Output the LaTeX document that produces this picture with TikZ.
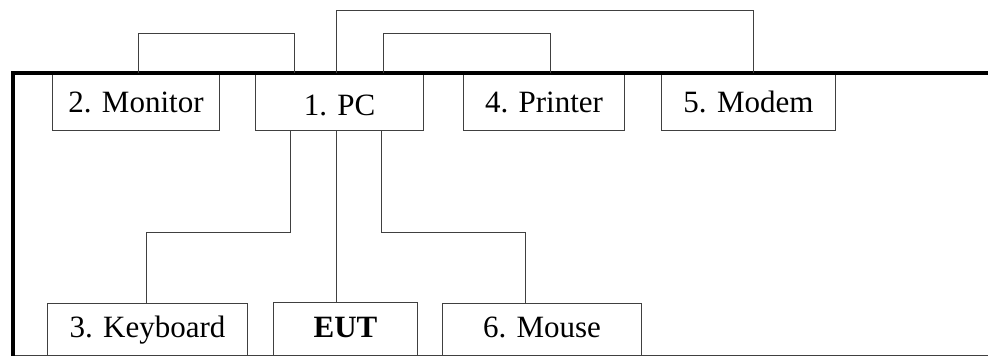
\documentclass[tikz,border=0pt]{standalone}
\usepackage{fontspec}
\setmainfont{Liberation Serif}
\usepackage{tikz}
\usetikzlibrary{positioning, calc}

\begin{document}
\begin{tikzpicture}[
  x=1pt, y=-1pt,
  unit/.style={
    draw=black!75, line width=1pt, anchor=north west,
    inner sep=0pt, text height=21pt,
    font=\fontsize{31}{36}\selectfont
  },
  upper/.style={unit, minimum height=57pt, text depth=0pt},
  lower/.style={unit, text depth=5pt},
  wire/.style={draw=black!75, line width=1pt},
  bus/.style={line width=4.5pt, line join=miter},
]
  \useasboundingbox (0,0) rectangle (988,356);

  % Base lines
  \draw[wire] (13,355) -- (988,355);

  % Devices on the table
  \node[upper, minimum width=167pt] (mon) at (52,73) {2. Monitor};
  \node[upper, minimum width=168pt] (pc) at (255,73) {\raisebox{-3pt}{1. PC}};
  \node[upper, minimum width=161pt] (prn) at (463,73) {4. Printer};
  \node[upper, minimum width=174pt] (mod) at (661,73) {5. Modem};

  % Devices on the floor
  \node[lower, minimum width=200pt, minimum height=52pt] (kbd) at (47,303) {3. Keyboard};
  \node[lower, minimum width=144pt, minimum height=53pt] (eut) at (273,302) {\textbf{EUT}};
  \node[lower, minimum width=199pt, minimum height=52pt] (mou) at (442,303) {6. Mouse};

  % Table edge
  \draw[bus] (988,73) -- (13,73) -- (13,356);

  % Cables above
  \draw[wire] ([xshift=86pt]mon.north west) -- ++(0,-40) -| ([xshift=39pt]pc.north west);
  \draw[wire] ([xshift=81pt]pc.north west) -- ++(0,-63) -| ([xshift=92pt]mod.north west);
  \draw[wire] ([xshift=128pt]pc.north west) -- ++(0,-40) -| ([xshift=87pt]prn.north west);

  % Cables below
  \draw[wire] ([xshift=35pt]pc.south west) -- ++(0,101) -| ([xshift=99pt]kbd.north west);
  \draw[wire] ([xshift=81pt]pc.south west) -- ([xshift=63pt]eut.north west);
  \draw[wire] ([xshift=126pt]pc.south west) -- ++(0,101) -| ([xshift=83pt]mou.north west);

\end{tikzpicture}
\end{document}
